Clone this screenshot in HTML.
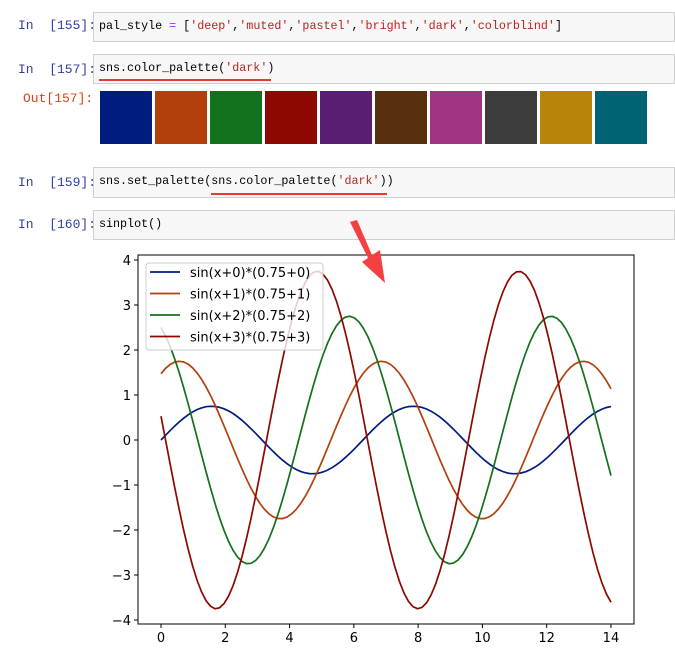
<!DOCTYPE html>
<html><head><meta charset="utf-8"><style>
body{margin:0;width:675px;height:659px;background:#fff;position:relative;overflow:hidden;font-family:"Liberation Mono","Noto Sans CJK SC",monospace;}
.p{position:absolute;font-size:13px;color:#303f9f;}
.o{color:#d84315;}
.cell{position:absolute;left:93px;right:0;background:#f7f7f7;border:1px solid #cfcfcf;font-size:11.7px;line-height:26px;padding-left:5px;color:#000;box-sizing:border-box;}
.s{color:#ba2121}.op{color:#aa22ff}
.sw{position:absolute;top:91px;width:52px;height:53px;}
</style></head><body>
<div class="p" style="left:18px;top:18px">In&nbsp;&nbsp;[155]:</div>
<div class="cell" style="top:12px;height:30px">pal_style <span class="op">=</span> [<span class="s">'deep'</span>,<span class="s">'muted'</span>,<span class="s">'pastel'</span>,<span class="s">'bright'</span>,<span class="s">'dark'</span>,<span class="s">'colorblind'</span>]</div>
<div class="p" style="left:18px;top:62px">In&nbsp;&nbsp;[157]:</div>
<div class="cell" style="top:54px;height:30px">sns.color_palette(<span class="s">'dark'</span>)</div>
<div style="position:absolute;left:99px;top:79px;width:172px;height:2px;background:#e53935"></div>
<div class="p o" style="left:23px;top:91px">Out[157]:</div>
<div id="pal"></div>
<div class="p" style="left:18px;top:175px">In&nbsp;&nbsp;[159]:</div>
<div class="cell" style="top:167px;height:31px">sns.set_palette(sns.color_palette(<span class="s">'dark'</span>))</div>
<div style="position:absolute;left:211px;top:193px;width:176px;height:2px;background:#e53935"></div>
<div class="p" style="left:18px;top:217px">In&nbsp;&nbsp;[160]:</div>
<div class="cell" style="top:210px;height:30px">sinplot()</div>
<svg id="ch" width="675" height="659" style="position:absolute;left:0;top:0"></svg>
<script>
const palette=['#001c7f','#b1400d','#12711c','#8c0800','#591e71','#592f0d','#a23582','#3c3c3c','#b8850a','#006374'];
const offsets=[0,1,2,3];
const amps=[0.75,1.75,2.75,3.75];
const labels=['sin(x+0)*(0.75+0)','sin(x+1)*(0.75+1)','sin(x+2)*(0.75+2)','sin(x+3)*(0.75+3)'];
const xTicks=[0,2,4,6,8,10,12,14];
const yTicks=[-4,-3,-2,-1,0,1,2,3,4];
const pal=document.getElementById('pal');
palette.forEach((c,i)=>{const d=document.createElement('div');d.className='sw';d.style.left=(100+i*55)+'px';d.style.background=c;


pal.appendChild(d);});
const NS='http://www.w3.org/2000/svg',svg=document.getElementById('ch');
const X=v=>161+v*32.14, Y=v=>440-v*45;
function el(t,a){const e=document.createElementNS(NS,t);for(const k in a)e.setAttribute(k,a[k]);svg.appendChild(e);return e;}
const L=138,T=255,R=634,B=624;
let cs=['#001c7f','#b1400d','#12711c','#8c0800'];
offsets.forEach((o,i)=>{let d='';for(let k=0;k<=100;k++){const x=14*k/100;d+=(k?'L':'M')+X(x).toFixed(1)+','+Y(Math.sin(x+o)*amps[i]).toFixed(1);}
const p=el('path',{d:d,fill:'none',stroke:cs[i],'stroke-width':1.7});

});
const f=el('rect',{x:L,y:T,width:R-L,height:B-T,fill:'none',stroke:'#000','stroke-width':1});


xTicks.forEach(v=>{el('line',{x1:X(v),x2:X(v),y1:B,y2:B+4,stroke:'#000'});const t=el('text',{x:X(v),y:B+18,'text-anchor':'middle','font-size':13,'font-family':'DejaVu Sans,sans-serif'});t.textContent=v;

});
yTicks.forEach(v=>{el('line',{x1:L-4,x2:L,y1:Y(v),y2:Y(v),stroke:'#000'});const t=el('text',{x:L-7,y:Y(v)+5,'text-anchor':'end','font-size':13,'font-family':'DejaVu Sans,sans-serif'});t.textContent=v<0?'\u2212'+(-v):v;

});
const lg=el('rect',{x:146,y:263,width:177,height:87,rx:3,fill:'rgba(255,255,255,0.8)',stroke:'#ccc'});


labels.forEach((s,i)=>{const y=272+i*21.5;el('line',{x1:150,x2:180,y1:y,y2:y,stroke:cs[i],'stroke-width':1.7});const t=el('text',{x:190,y:y+5,'font-size':13,'font-family':'DejaVu Sans,sans-serif'});t.textContent=s;

});
const a=el('polygon',{points:'350,222 357,220 372,255 380,250 385,283 362,262 368,258',fill:'#f44040'});


</script>
</body></html>
